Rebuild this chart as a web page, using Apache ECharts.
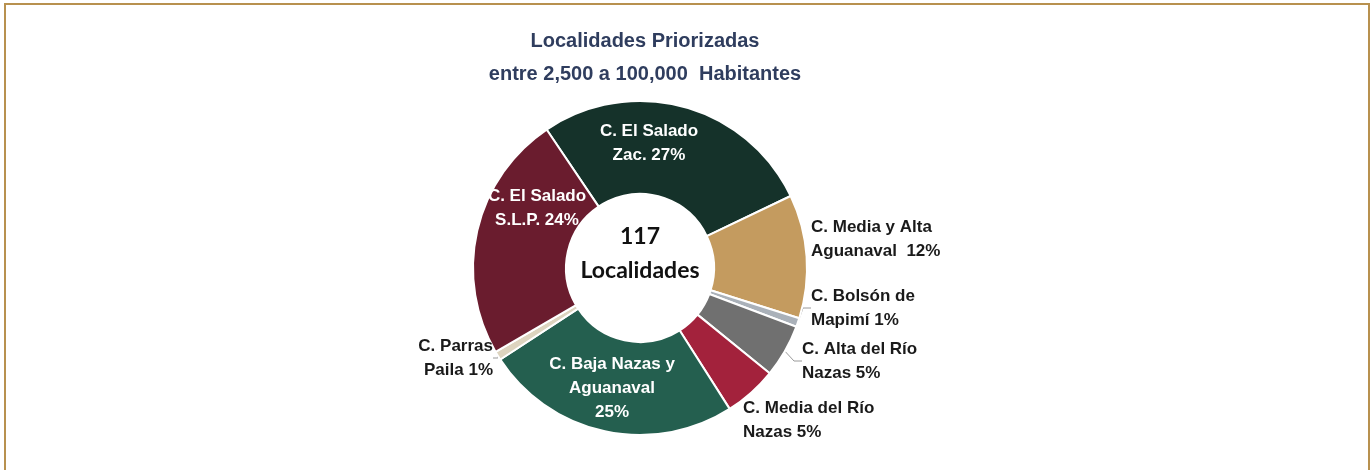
<!DOCTYPE html>
<html>
<head>
<meta charset="utf-8">
<title>Localidades Priorizadas</title>
<script src="https://cdn.jsdelivr.net/npm/echarts@6/dist/echarts.min.js"></script>
<style>
html, body {
  margin: 0;
  padding: 0;
  background: #fff;
}
#myChart {
  position: absolute;
  left: 0;
  top: 0;
  width: 1372px;
  height: 470px;
}
#frame {
  position: absolute;
  left: 4px;
  top: 3px;
  width: 1362px;
  height: 520px;
  border: 2px solid #b8914f;
  pointer-events: none;
}
</style>
</head>
<body>
<div id="myChart"></div>
<div id="frame"></div>
<script>
// cuencas y numero de localidades (117 en total)
const cuencas = [
  "C. El Salado\nZac.",
  "C. Media y Alta\nAguanaval",
  "C. Bolsón de\nMapimí",
  "C. Alta del Río\nNazas",
  "C. Media del Río\nNazas",
  "C. Baja Nazas y\nAguanaval",
  "C. Parras\nPaila",
  "C. El Salado\nS.L.P."
];
const localidades = [32, 14, 1, 6, 6, 29, 1, 28];
const colores = ["#15322a", "#c49b5f", "#aab1b9", "#707070", "#a3223c", "#245f4f", "#ddd4bf", "#6a1c2e"];
const dentro = [true, false, false, false, false, true, false, true];
const separador = [" ", "  ", " ", " ", " ", "\n", " ", " "];
const totalTexto = ["117", "Localidades"];

// donde va cada etiqueta (px)
const posEtiqueta = [
  { x: 649, y: 143, align: "center" },
  { x: 811, y: 239, align: "left" },
  { x: 811, y: 308, align: "left" },
  { x: 802, y: 361, align: "left" },
  { x: 743, y: 420, align: "left" },
  { x: 612, y: 388, align: "center" },
  { x: 493, y: 358, align: "right" },
  { x: 537, y: 208, align: "center" }
];

let chart = echarts.init(document.getElementById("myChart"));

let pieData = cuencas.map(function (name, i) {
  let item = {
    name: name,
    value: localidades[i],
    itemStyle: { color: colores[i] }
  };
  if (dentro[i]) {
    item.label = {
      position: "inside",
      color: "#fff",
      align: "center"
    };
    item.labelLine = { show: false };
  } else {
    item.label = {
      position: "outside",
      color: "#1a1a1a",
      align: posEtiqueta[i].align
    };
  }
  return item;
});
// lineas guia solo en algunas
pieData[1].labelLine = { show: false };
pieData[4].labelLine = { show: false };

let option = {
  backgroundColor: "#fff",
  animation: false,
  title: {
    text: "Localidades Priorizadas\nentre 2,500 a 100,000  Habitantes",
    left: 640,
    top: 20,
    textAlign: "center",
    textStyle: {
      fontFamily: "Liberation Sans, Arial, sans-serif",
      fontSize: 20,
      fontWeight: "bold",
      color: "#2f3d5e",
      lineHeight: 33
    }
  },
  graphic: [
    {
      type: "text",
      x: 640,
      y: 254,
      style: {
        text: totalTexto.join("\n"),
        textAlign: "center",
        textVerticalAlign: "middle",
        font: "bold 23px Lato, 'Open Sans', sans-serif",
        lineHeight: 34,
        fill: "#111"
      }
    }
  ],
  series: [
    {
      name: "Localidades",
      type: "pie",
      center: [640, 268],
      radius: [74, 167],
      startAngle: 124,
      clockwise: true,
      percentPrecision: 0,
      avoidLabelOverlap: false,
      itemStyle: {
        borderColor: "#fff",
        borderWidth: 2
      },
      label: {
        show: true,
        formatter: function (p) {
          return p.name + separador[p.dataIndex] + p.percent + "%";
        },
        fontFamily: "Liberation Sans, Arial, sans-serif",
        fontSize: 17,
        fontWeight: "bold",
        lineHeight: 24
      },
      labelLine: {
        show: true,
        length: 8,
        length2: 8,
        lineStyle: { color: "#9a9a9a", width: 1 }
      },
      labelLayout: function (params) {
        let p = posEtiqueta[params.dataIndex];
        return {
          x: p.x,
          y: p.y,
          align: p.align,
          verticalAlign: "middle"
        };
      },
      emphasis: { disabled: true },
      data: pieData
    }
  ]
};

chart.setOption(option);
window.onresize = function () {
  chart.resize();
};
</script>
</body>
</html>
